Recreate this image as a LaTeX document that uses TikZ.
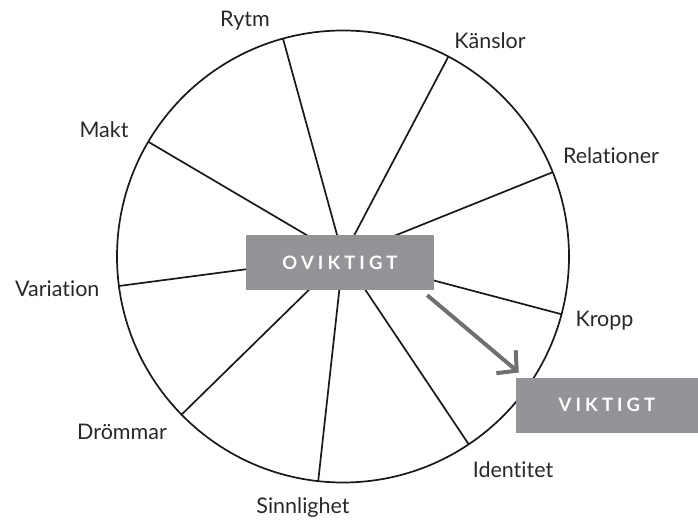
\documentclass[tikz,border=0pt]{standalone}
\usepackage{fontspec}
\setmainfont{Lato}[Ligatures=NoCommon]
\newfontfamily\boxfont{Lato}[LetterSpace=22,UprightFont=* Bold]
\usetikzlibrary{arrows.meta}
\definecolor{boxgray}{RGB}{148,148,152}
\definecolor{arrowgray}{RGB}{112,112,114}
\definecolor{labelgray}{RGB}{40,40,40}
\tikzset{
  rim/.style={line width=1.7pt,black!90},
  wordbox/.style={fill=boxgray,text=white,minimum height=55,inner sep=0pt,
    font=\boxfont\fontsize{18.5}{18.5}\selectfont},
  spokelabel/.style={anchor=base,text=labelgray,font=\fontsize{21.5}{21.5}\selectfont},
  pointer/.style={line width=4pt,arrowgray,-{Straight Barb[length=14,width=30]}}
}
\begin{document}
\begin{tikzpicture}[x=1pt,y=1pt]
\useasboundingbox (0,0) rectangle (698,519);
\coordinate (c) at (343,262.5);
\draw[rim] (c) circle (226);
\foreach \a in {105.4,62.2,21.9,-14.8,-56.2,-96.3,224.4,187.5,149.5}
  \draw[rim] (c) -- ++(\a:226);
% boxes
\node[wordbox,minimum width=188] (ov) at (340,256.5) {OVIKTIGT};
\node[wordbox,minimum width=182] (vik) at (607,113.8) {VIKTIGT};
\draw[pointer] ([xshift=-7pt,yshift=-5pt]ov.south east) -- ([xshift=3pt,yshift=5pt]vik.north west);
% labels round the wheel
\node[spokelabel] (rytm) at (245,492.3) {Rytm};
\node[spokelabel] (kanslor) at (490,470.7) {Känslor};
\node[spokelabel] (relationer) at (611,355.7) {Relationer};
\node[spokelabel] (kropp) at (604.5,192.3) {Kropp};
\node[spokelabel] (identitet) at (513,41.3) {Identitet};
\node[spokelabel] (sinnlighet) at (303,5.7) {Sinnlighet};
\node[spokelabel] (drommar) at (122,79) {Drömmar};
\node[spokelabel] (variation) at (57.3,222.3) {Variation};
\node[spokelabel] (makt) at (104,381.7) {Makt};
\end{tikzpicture}
\end{document}
